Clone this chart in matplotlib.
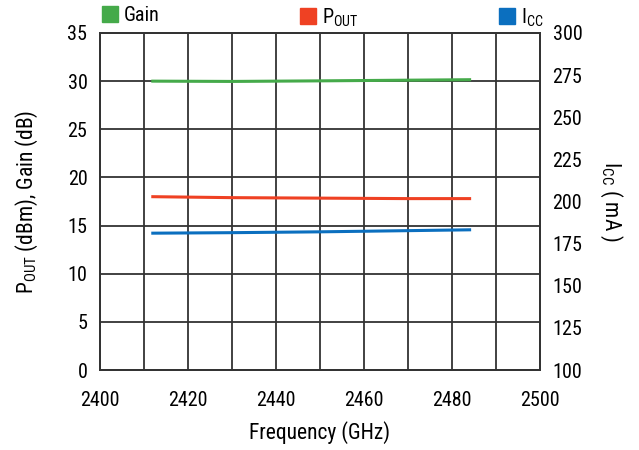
import matplotlib
matplotlib.use('Agg')
import matplotlib.pyplot as plt
from matplotlib.lines import Line2D

FONT = ['Roboto Condensed', 'Liberation Sans Narrow', 'Roboto', 'DejaVu Sans']
plt.rcParams['font.family'] = FONT
plt.rcParams['mathtext.fontset'] = 'custom'
plt.rcParams['mathtext.rm'] = 'Roboto Condensed'
plt.rcParams['mathtext.default'] = 'rm'

# measured curves vs frequency
freq = [2412, 2430, 2450, 2470, 2484]
gain = [30.0, 29.97, 30.03, 30.1, 30.15]
pout = [18.0, 17.9, 17.85, 17.8, 17.8]
icc = [181.2, 181.5, 182.0, 182.7, 183.2]

green = '#45aa4a'
red = '#ef4123'
blue = '#0b6fbf'
grid_c = '#333333'

fig = plt.figure(figsize=(6.39, 4.5), dpi=100)
ax = fig.add_axes([100 / 639, 80 / 450, 440 / 639, 337 / 450])
ax2 = ax.twinx()

ax.plot(freq, gain, color=green, lw=2.2)
ax.plot(freq, pout, color=red, lw=2.2)
ax2.plot(freq, icc, color=blue, lw=2.2)

ax.set_xlim(2400, 2500)
ax.set_ylim(0, 35)
ax2.set_ylim(100, 300)
ax.set_xticks(range(2400, 2501, 20))
ax.set_xticks(range(2400, 2501, 10), minor=True)
ax.set_yticks(range(0, 36, 5))
ax2.set_yticks(range(100, 301, 25))

ax.grid(True, which='both', axis='x', color=grid_c, lw=1.3)
ax.grid(True, axis='y', color=grid_c, lw=1.3)
ax.set_axisbelow(True)
for a in (ax, ax2):
    for s in a.spines.values():
        s.set_color(grid_c)
        s.set_linewidth(1.3)
    a.tick_params(which='both', length=0, labelsize=14.5, pad=9)
ax.tick_params(axis='x', which='both', pad=15)

ax.set_xlabel('Frequency (GHz)', fontsize=15.5, labelpad=8)
ax.set_ylabel(r'P$_{OUT}$ (dBm), Gain (dB)', fontsize=15.5, labelpad=20)
ax2.set_ylabel(r'I$_{CC}$ ( mA )', fontsize=15.5, rotation=270, labelpad=30)

# one legend entry per series, spread across the top
colors = [green, red, blue]
labels = ['Gain', r'P$_{OUT}$', r'I$_{CC}$']
anchors = [94, 292, 491]
for c, lab, xa in zip(colors, labels, anchors):
    h = Line2D([], [], marker='s', ls='none', color=c, markersize=11)
    fig.legend([h], [lab], loc='upper left', bbox_to_anchor=(xa / 639, 1.004),
               frameon=False, fontsize=14.5, handletextpad=0.3, handlelength=0.8,
               borderaxespad=0)

fig.savefig('out.png', dpi=100)
